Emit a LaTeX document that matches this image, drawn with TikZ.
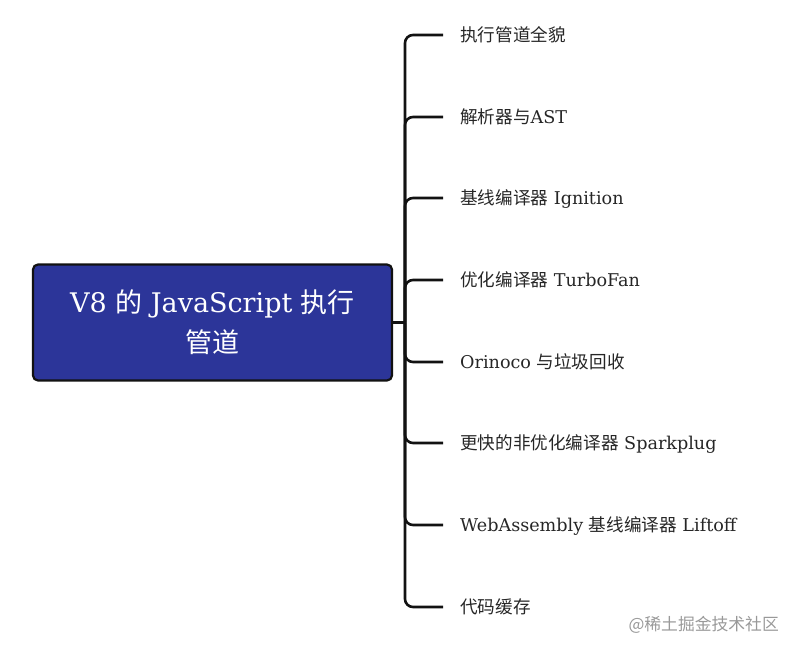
\documentclass[tikz,border=0pt]{standalone}
\usepackage{fontspec}
\setmainfont{DejaVu Serif}
\newfontfamily\cjk{Noto Sans CJK SC}
\newcommand{\zh}[1]{{\cjk #1}}
\usetikzlibrary{positioning}
\definecolor{rootblue}{HTML}{2C3599}
\definecolor{inkline}{HTML}{121212}

\begin{document}
\begin{tikzpicture}[
    x = 1pt, y = -1pt,
    % Style for the central box on the left
    rootbox/.style = {draw=inkline, line width=2.2pt, fill=rootblue, rounded corners=5pt,
        minimum width=359pt, minimum height=116pt, text=white, align=center,
        font=\fontsize{27}{40}\selectfont},
    % Style for the texts on the right
    leaf/.style = {anchor=west, inner sep=0pt, text height=16pt, text depth=3.5pt,
        text=black!85, font=\fontsize{17.6}{20}\selectfont},
    % Style for the bracket lines: thick with rounded bends
    branch/.style = {draw=inkline, line width=2.6pt, rounded corners=8pt, shorten >=17pt}
]
    \useasboundingbox (0,0) rectangle (799,652);

    % --- ROOT (Left) ---
    \node[rootbox] (root) at (212.5, 322.5) {V8 \zh{的} JavaScript \zh{执行}\\\zh{管道}};
    \coordinate (hub) at (405, 322.5);

    % --- LEAVES (Right Column) ---
    \node[leaf] (leaf1) at (460, 35)  {\zh{执行管道全貌}};
    \node[leaf] (leaf2) at (460, 117) {\zh{解析器与}AST};
    \node[leaf] (leaf3) at (460, 198) {\zh{基线编译器} Ignition};
    \node[leaf] (leaf4) at (460, 280) {\zh{优化编译器} TurboFan};
    \node[leaf] (leaf5) at (460, 362) {Orinoco \zh{与垃圾回收}};
    \node[leaf] (leaf6) at (460, 443) {\zh{更快的非优化编译器} Sparkplug};
    \node[leaf] (leaf7) at (460, 525) {WebAssembly \zh{基线编译器} Liftoff};
    \node[leaf] (leaf8) at (460, 607) {\zh{代码缓存}};

    % --- BRACKET ---
    \draw[inkline, line width=2.6pt] (root.east) -- (hub);
    % every branch runs along the spine and bends into its leaf
    \foreach \i in {1,...,8} {
        \draw[branch] (hub) |- (leaf\i.west);
    }

    % --- WATERMARK ---
    \node[anchor=east, inner sep=0pt, text=black!40, font=\fontsize{16.8}{20}\selectfont]
        (mark) at (779, 625) {\zh{@稀土掘金技术社区}};

\end{tikzpicture}
\end{document}
